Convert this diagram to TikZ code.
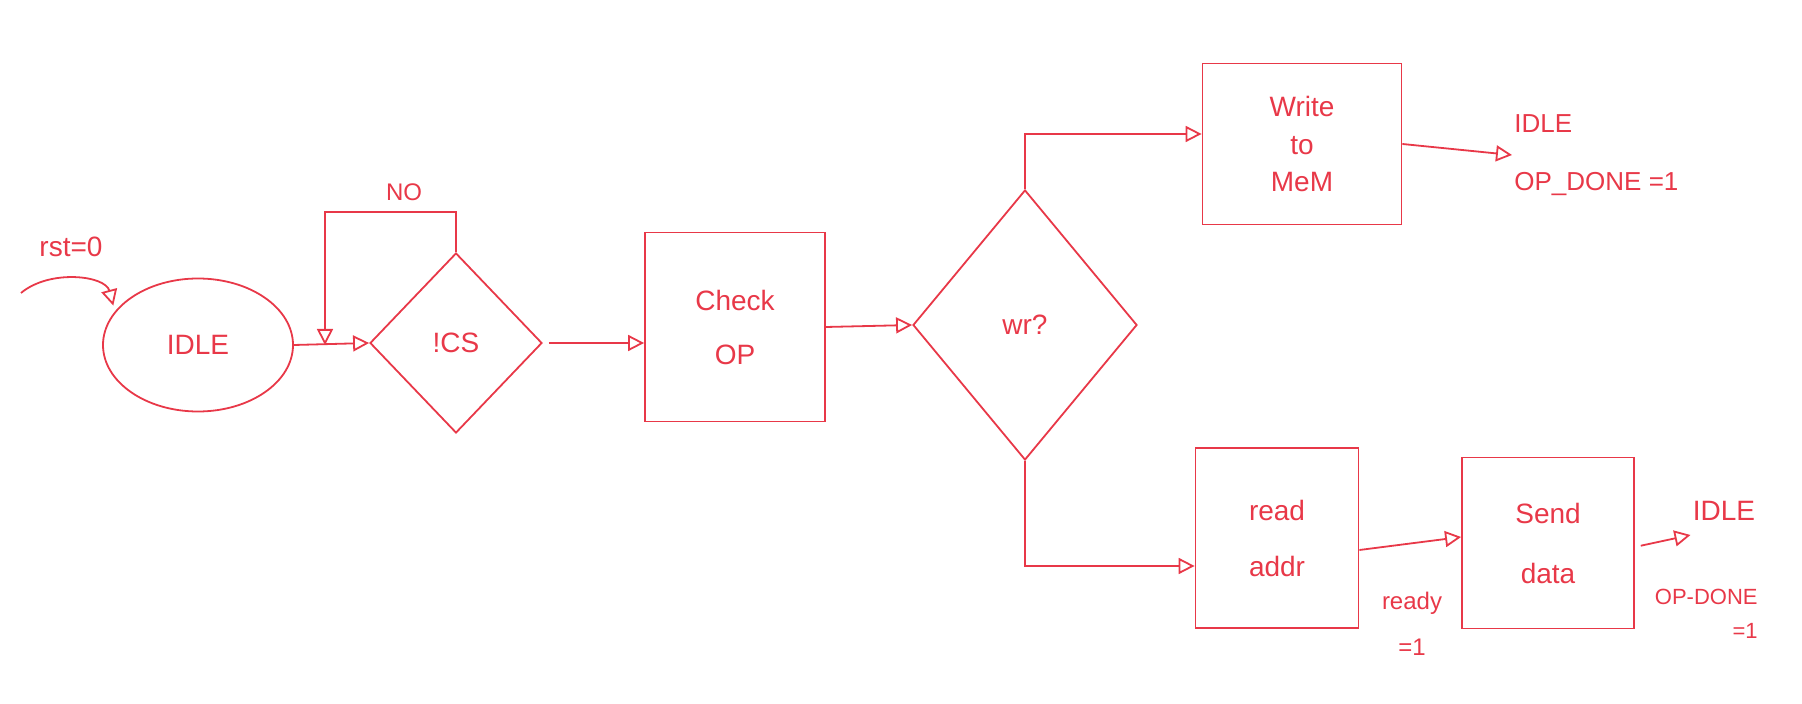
\documentclass[tikz,border=0pt]{standalone}
\usepackage{fontspec}
\setmainfont{Liberation Sans}
\usetikzlibrary{shapes.geometric,arrows.meta}
\definecolor{penred}{RGB}{232,56,72}
\tikzset{
  fsm/.style={draw=penred, line width=0.9pt, text=penred, inner sep=0pt, font=\fontsize{14}{17}\selectfont},
  statebox/.style={fsm, rectangle, align=center},
  choice/.style={fsm, diamond},
  lbl/.style={text=penred, inner sep=1pt, font=\fontsize{14}{17}\selectfont},
  arr/.style={draw=penred, line width=0.9pt, -{Triangle[open,length=8pt,width=8pt]}},
}
\begin{document}
\begin{tikzpicture}[x=0.5pt,y=-0.5pt]
\useasboundingbox (0,0) rectangle (1802,704);
% reset et IDLE
\node[lbl] (rst) at (71,247) {rst=0};
\coordinate (rstin) at (21,293);
\node[fsm, ellipse, minimum width=95pt, minimum height=66.5pt] (idle) at (198,345) {IDLE};
\draw[arr, shorten >=3pt] (rstin) to[out=40,in=105] (idle.158);
% test !CS
\node[choice, minimum width=86pt, minimum height=90pt] (cs) at (456,343) {!CS};
\draw[arr] (idle.east) -- (cs.west);
\coordinate (loop) at (325,212);
\draw[arr] (cs.north) |- (loop) -- (loop |- idle.east);
\node[lbl, font=\fontsize{12}{14}\selectfont] (no) at (404,192) {NO};
% Check OP
\node[statebox, minimum width=90pt, minimum height=94.5pt] (check) at (735,327) {Check\\[10pt]OP};
\draw[arr, shorten <=3pt] (cs.east) -- (cs.east -| check.west);
% test wr?
\node[choice, minimum width=112pt, minimum height=135pt] (wr) at (1025,325) {wr?};
\draw[arr] (check.east) -- (wr.west);
% branche ecriture
\node[statebox, minimum width=99.5pt, minimum height=80.5pt] (write) at (1302,144) {Write\\[1.5pt]to\\[1.5pt]MeM};
\draw[arr] (wr.north) |- ([yshift=5pt]write.west);
\node[lbl, anchor=west, align=left, font=\fontsize{13}{16}\selectfont] (wdone) at (1512,155) {IDLE\\[13pt]OP\_DONE =1};
\draw[arr] (write.east) -- (wdone.west);
% branche lecture
\node[statebox, minimum width=81.5pt, minimum height=90pt] (read) at (1277,538) {read\\[11pt]addr};
\draw[arr] (wr.south) |- ([yshift=-14pt]read.west);
\node[statebox, minimum width=86pt, minimum height=85.5pt] (send) at (1548,543) {Send\\[13pt]data};
\draw[arr] ([yshift=-6pt]read.east) -- ([yshift=3pt]send.west);
\node[lbl, align=center, font=\fontsize{12}{14}\selectfont] (ready) at (1412,624) {ready\\[9pt]=1};
\node[lbl] (ridle) at (1724,511) {IDLE};
\draw[arr, shorten <=3pt] ([yshift=-2pt]send.east) -- ([yshift=-12pt]ridle.west);
\node[lbl, anchor=east, align=right, font=\fontsize{11}{13}\selectfont] (rdone) at (1760,614) {OP-DONE\\[4pt]=1};
\end{tikzpicture}
\end{document}
